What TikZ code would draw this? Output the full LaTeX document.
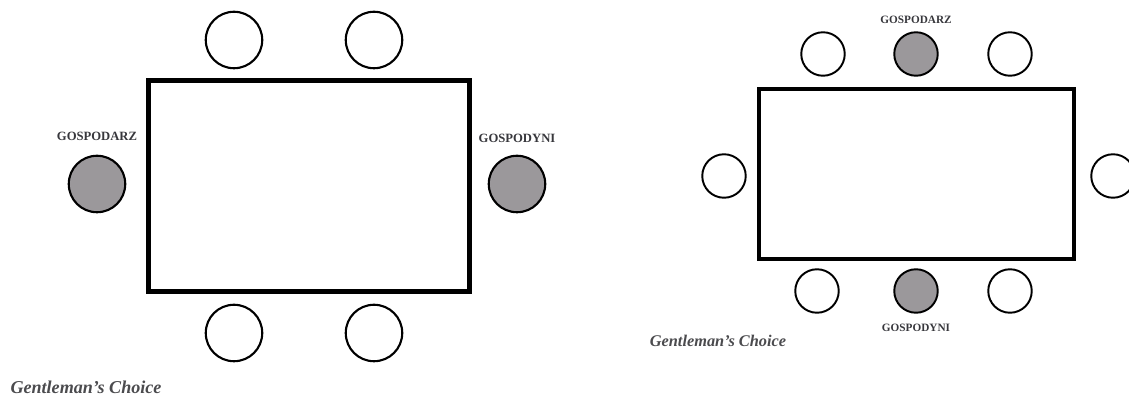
\documentclass[tikz,border=0pt]{standalone}
\usepackage{fontspec}
\setmainfont{Liberation Serif}
\usepackage{xcolor}
\definecolor{seatgray}{RGB}{155,152,155}
\definecolor{labelgray}{RGB}{55,55,60}
\definecolor{brandgray}{RGB}{75,75,78}
\tikzset{
    bigseat/.style={circle,draw,line width=1.2pt,minimum size=1.13cm,inner sep=0pt,fill=white},
    smallseat/.style={circle,draw,line width=1.1pt,minimum size=0.87cm,inner sep=0pt,fill=white},
    table/.style={draw,line width=2.6pt,inner sep=0pt,fill=white},
    bigname/.style={font=\bfseries\fontsize{7.2}{8}\selectfont,text=labelgray},
    smallname/.style={font=\bfseries\fontsize{6.4}{7}\selectfont,text=labelgray},
    brand/.style={font=\bfseries\itshape,text=brandgray}
}
\begin{document}
\begin{tikzpicture}[x=0.02cm,y=-0.02cm]
    \useasboundingbox (0,0) rectangle (1129,398);

    % left table
    \node[table,minimum width=6.42cm,minimum height=4.22cm] (lefttable) at (309,186) {};
    \node[bigseat] (lefttop1) at (234,40) {};
    \node[bigseat] (lefttop2) at (374,40) {};
    \node[bigseat] (leftbottom1) at (234,333) {};
    \node[bigseat] (leftbottom2) at (374,333) {};
    \node[bigseat,fill=seatgray] (lefthost) at (97,184) {};
    \node[bigseat,fill=seatgray] (lefthostess) at (517,184) {};
    \node[bigname] (lefthostname) at (97,136) {GOSPODARZ};
    \node[bigname] (lefthostessname) at (517,138) {GOSPODYNI};
    \node[brand,font=\bfseries\itshape\fontsize{10.3}{12}\selectfont] (leftbrand) at (86,387) {Gentleman's Choice};

    % right table
    \node[table,minimum width=6.3cm,minimum height=3.4cm] (righttable) at (916.5,174) {};
    \node[smallseat] (righttop1) at (823,54) {};
    \node[smallseat,fill=seatgray] (righthost) at (916,54) {};
    \node[smallseat] (righttop2) at (1010,54) {};
    \node[smallseat] (rightside1) at (724,176) {};
    \node[smallseat] (rightside2) at (1113,176) {};
    \node[smallseat] (rightbottom1) at (817,291) {};
    \node[smallseat,fill=seatgray] (righthostess) at (916,291) {};
    \node[smallseat] (rightbottom2) at (1010,291) {};
    \node[smallname] (righthostname) at (916,20) {GOSPODARZ};
    \node[smallname] (righthostessname) at (916,328) {GOSPODYNI};
    \node[brand,font=\bfseries\itshape\fontsize{9.3}{11}\selectfont] (rightbrand) at (718,341) {Gentleman's Choice};
\end{tikzpicture}
\end{document}
